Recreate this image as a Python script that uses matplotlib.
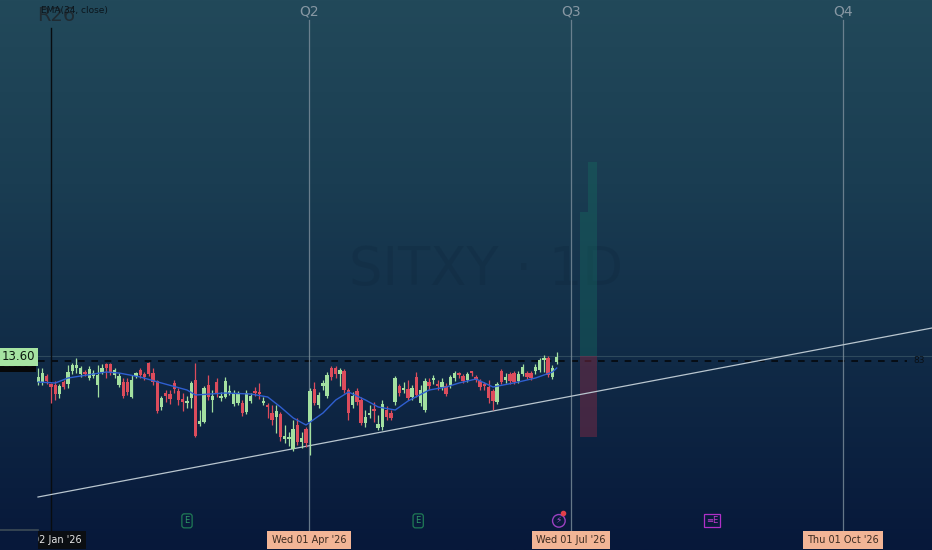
import numpy as np
import matplotlib.pyplot as plt
import matplotlib.transforms as mtransforms
from matplotlib.patches import Rectangle
from matplotlib.colors import LinearSegmentedColormap

# daily bars, index 0 = Fri 02 Jan '26
bar_idx = list(range(-3, 120))
opens = [13.10, 13.10, 13.22, 13.06, 13.04, 12.86, 13.10, 13.06, 13.32, 13.38,
         13.26, 13.30, 13.18, 13.22, 13.04, 13.30, 13.46, 13.46, 13.24, 13.04,
         13.10, 13.10, 12.80, 13.22, 13.34, 13.26, 13.48, 13.28, 13.12, 12.60,
         12.88, 12.86, 13.08, 12.92, 12.76, 12.68, 12.78, 13.14, 12.26, 12.30,
         13.04, 12.74, 13.10, 12.78, 12.80, 12.88, 12.66, 12.68, 12.68, 12.50,
         12.72, 12.92, 12.88, 12.68, 12.64, 12.48, 12.40, 12.46, 11.96, 11.96,
         11.76, 12.24, 11.90, 12.16, 12.30, 12.96, 12.64, 13.02, 12.82, 13.38,
         13.38, 13.26, 13.32, 12.94, 12.64, 12.92, 12.74, 12.28, 12.44, 12.54,
         12.18, 12.20, 12.54, 12.48, 12.70, 13.02, 12.94, 12.96, 12.80, 13.20,
         12.68, 12.54, 13.10, 13.14, 13.06, 13.00, 13.02, 13.04, 13.18, 13.28,
         13.22, 13.14, 13.30, 13.20, 13.12, 13.04, 13.00, 12.92, 12.70, 13.32,
         13.14, 13.26, 13.28, 13.12, 13.26, 13.28, 13.28, 13.32, 13.34, 13.54,
         13.58, 13.20, 13.50]
highs = [13.38, 13.38, 13.26, 13.08, 13.12, 13.06, 13.14, 13.44, 13.48, 13.58,
         13.42, 13.34, 13.42, 13.34, 13.44, 13.46, 13.48, 13.48, 13.38, 13.28,
         13.18, 13.18, 13.24, 13.30, 13.38, 13.30, 13.50, 13.38, 13.14, 12.82,
         12.94, 12.94, 13.14, 12.98, 12.88, 12.82, 13.12, 13.48, 12.54, 13.02,
         13.24, 12.94, 13.18, 12.90, 13.20, 13.04, 12.94, 12.92, 12.74, 12.94,
         12.88, 13.00, 13.08, 12.80, 12.68, 12.64, 12.64, 12.50, 12.24, 12.10,
         12.34, 12.38, 12.10, 12.20, 12.98, 13.10, 12.90, 13.14, 13.30, 13.42,
         13.42, 13.38, 13.36, 12.98, 12.90, 12.98, 12.80, 12.54, 12.64, 12.70,
         12.44, 12.74, 12.62, 12.54, 13.22, 13.06, 13.10, 13.14, 13.04, 13.30,
         13.04, 13.18, 13.18, 13.24, 13.14, 13.18, 13.08, 13.24, 13.32, 13.30,
         13.26, 13.30, 13.32, 13.24, 13.16, 13.10, 13.14, 12.96, 13.10, 13.36,
         13.28, 13.30, 13.32, 13.32, 13.46, 13.32, 13.32, 13.46, 13.58, 13.64,
         13.62, 13.44, 13.70]
lows = [13.04, 13.04, 13.06, 12.68, 12.74, 12.78, 12.96, 12.98, 13.26, 13.28,
        13.20, 13.22, 13.14, 13.18, 12.80, 13.26, 13.18, 13.24, 13.18, 13.00,
        12.78, 12.84, 12.78, 13.18, 13.18, 13.14, 13.22, 13.04, 12.48, 12.54,
        12.70, 12.66, 12.88, 12.64, 12.52, 12.58, 12.58, 12.00, 12.22, 12.28,
        12.74, 12.50, 12.80, 12.72, 12.78, 12.84, 12.62, 12.64, 12.42, 12.46,
        12.68, 12.82, 12.76, 12.64, 12.38, 12.24, 12.08, 11.92, 11.88, 11.82,
        11.72, 11.84, 11.78, 11.80, 11.64, 12.64, 12.58, 12.94, 12.78, 13.14,
        13.18, 13.02, 12.88, 12.34, 12.58, 12.64, 12.24, 12.20, 12.38, 12.30,
        12.14, 12.14, 12.34, 12.34, 12.64, 12.82, 12.88, 12.74, 12.74, 12.80,
        12.62, 12.50, 12.94, 13.06, 12.94, 12.94, 12.82, 12.98, 13.12, 13.18,
        13.08, 13.10, 13.22, 13.10, 12.94, 12.94, 12.68, 12.54, 12.66, 13.06,
        13.08, 13.06, 13.06, 13.08, 13.22, 13.16, 13.14, 13.26, 13.30, 13.30,
        13.20, 13.16, 13.46]
closes = [13.20, 13.28, 13.12, 13.00, 12.86, 13.02, 13.00, 13.30, 13.44, 13.44,
          13.38, 13.26, 13.36, 13.28, 13.24, 13.38, 13.38, 13.30, 13.34, 13.22,
          12.82, 12.90, 13.14, 13.28, 13.24, 13.20, 13.26, 13.10, 12.52, 12.78,
          12.82, 12.76, 12.96, 12.74, 12.70, 12.70, 13.08, 12.02, 12.32, 12.98,
          12.80, 12.82, 12.88, 12.82, 13.12, 12.90, 12.88, 12.88, 12.48, 12.88,
          12.82, 12.88, 12.86, 12.70, 12.60, 12.34, 12.52, 12.00, 12.02, 12.00,
          12.16, 11.90, 11.98, 11.88, 12.92, 12.68, 12.84, 13.08, 13.24, 13.20,
          13.26, 13.34, 12.94, 12.48, 12.82, 12.70, 12.28, 12.40, 12.48, 12.52,
          12.26, 12.66, 12.40, 12.38, 13.18, 12.88, 12.98, 12.78, 12.98, 12.84,
          12.94, 13.12, 13.02, 13.18, 13.02, 13.10, 12.86, 13.20, 13.28, 13.24,
          13.12, 13.26, 13.28, 13.14, 13.00, 13.02, 12.78, 12.72, 13.06, 13.10,
          13.20, 13.12, 13.10, 13.26, 13.40, 13.20, 13.18, 13.40, 13.54, 13.58,
          13.24, 13.38, 13.60]

# blue moving average at a few bars
ema_idx = [-3, 1, 4, 7, 13, 16, 21, 26, 32, 34, 41, 47, 51, 54, 57, 60,
           64, 67, 70, 74, 77, 81, 84, 89, 93, 96, 100, 104, 110, 114, 118, 119]
ema_val = [13.10, 13.08, 13.18, 13.22, 13.30, 13.28, 13.20, 13.08, 12.94, 12.84,
           12.88, 12.86, 12.80, 12.60, 12.38, 12.24, 12.48, 12.74, 12.90, 12.74,
           12.60, 12.54, 12.72, 12.94, 13.00, 13.08, 13.16, 13.00, 13.10, 13.18,
           13.30, 13.38]

trend_x = [-3.06, 207.3]
trend_y = [10.80, 14.18]

year_idx = 0
year_date = "02 Jan '26"
quarter_idx = [60.7, 122.35, 186.35]
quarter_names = ['Q2', 'Q3', 'Q4']
quarter_dates = ["Wed 01 Apr '26", "Wed 01 Jul '26", "Thu 01 Oct '26"]

last_price = 13.60
prev_close = 13.52

# long position tool
pos_left, pos_mid, pos_right = 124.5, 126.4, 128.5
pos_entry = 13.62
pos_stop = 12.00
pos_target_lo = 16.50
pos_target_hi = 17.50

event_idx = [32, 86.4, 119.5, 155.5]
event_kind = ['earn', 'earn', 'div', 'earn_next']

UP = '#a3e0a0'
DOWN = '#dc4c5c'

fig = plt.figure(figsize=(9.32, 5.5), dpi=100)
ax = fig.add_axes([0, 0, 1, 1])
ax.set_xlim(-12, 207.3)
ax.set_ylim(9.74, 20.74)
ax.axis('off')

# background gradient
bg = LinearSegmentedColormap.from_list('bg', ['#07183a', '#102a46', '#1a3d52', '#22495a'])
grad = np.linspace(0, 1, 256).reshape(-1, 1)
ax.imshow(grad, cmap=bg, origin='lower', aspect='auto', extent=[0, 1, 0, 1],
          transform=ax.transAxes, zorder=0)

# watermark
ax.text(0.521, 0.51, 'SITXY · 1D', transform=ax.transAxes, fontsize=38,
        color='#0c2238', alpha=0.22, ha='center', va='center', zorder=1)

# faint price line and previous close dashes
ax.plot([trend_x[0], 207.3], [pos_entry, pos_entry], color='#3c5868', lw=0.8, alpha=0.7, zorder=2)
ax.plot([trend_x[0], 201.4], [prev_close, prev_close], color='#05080c', lw=1.2,
        dashes=(4, 4), zorder=2)
ax.text(204.2, prev_close, '83', color='#0a1016', fontsize=6.5, ha='center', va='center', zorder=3)

# vertical separators
top = mtransforms.blended_transform_factory(ax.transData, ax.transAxes)
ax.axvline(year_idx, ymin=0.035, ymax=0.949, color='#080c10', lw=1, zorder=2)
for qi, qn in zip(quarter_idx, quarter_names):
    ax.axvline(qi, ymin=0.035, ymax=0.964, color='#7d8f9c', lw=0.9, alpha=0.8, zorder=2)
    ax.text(qi, 0.979, qn, transform=top, color='#8797a3', fontsize=10,
            ha='center', va='center', zorder=3)

# position box
ax.add_patch(Rectangle((pos_left, pos_entry), pos_right - pos_left, pos_target_lo - pos_entry,
                       facecolor='#16645e', alpha=0.45, lw=0, zorder=2))
ax.add_patch(Rectangle((pos_mid, pos_target_lo), pos_right - pos_mid, pos_target_hi - pos_target_lo,
                       facecolor='#16645e', alpha=0.45, lw=0, zorder=2))
ax.add_patch(Rectangle((pos_left, pos_stop), pos_right - pos_left, pos_entry - pos_stop,
                       facecolor='#7a2a44', alpha=0.5, lw=0, zorder=2))

# trend line
ax.plot(trend_x, trend_y, color='#b9c6cf', lw=0.9, zorder=3)

# candles
x = np.array(bar_idx)
o = np.array(opens)
h = np.array(highs)
l = np.array(lows)
c = np.array(closes)
cols = np.where(c >= o, UP, DOWN)
ax.vlines(x, l, h, colors=cols, lw=0.9, zorder=4)
body_lo = np.minimum(o, c)
body_h = np.maximum(np.abs(c - o), 0.04)
ax.bar(x, body_h, bottom=body_lo, width=0.82, color=cols, lw=0, zorder=5)

# moving average
ax.plot(ema_idx, ema_val, color='#2f5fd0', lw=1.0, zorder=6)

# top-left labels (they overlap in the original too)
ax.text(0.040, 0.972, 'R26', transform=ax.transAxes, fontsize=14, color='#1f2b32',
        ha='left', va='center', zorder=7)
ax.text(0.044, 0.981, 'EMA(34, close)', transform=ax.transAxes, fontsize=6.5,
        color='#0b151c', ha='left', va='center', zorder=8)

# price labels on the left
ax.text(-7.7, 13.45, '13.53', fontsize=8, color='#111111', ha='center', va='center', zorder=8,
        bbox=dict(boxstyle='square,pad=0.2', fc='#060708', ec='none'))
ax.text(-7.7, last_price, '13.60', fontsize=8.5, color='#0d1a10', ha='center', va='center', zorder=9,
        bbox=dict(boxstyle='square,pad=0.25', fc='#a6e3a2', ec='none'))

# bottom axis strip
ax.plot([0, 0.041], [0.036, 0.036], transform=ax.transAxes, color='#3d4b56', lw=1.2, zorder=10)
for qi, qd in zip(quarter_idx, quarter_dates):
    ax.text(qi, 0.018, qd, transform=top, fontsize=7, color='#3b2a20', ha='center', va='center',
            zorder=8, bbox=dict(boxstyle='square,pad=0.45', fc='#f2b596', ec='none'))
ax.text(year_idx + 1.4, 0.018, year_date, transform=top, fontsize=7, color='#e6e6e6',
        ha='center', va='center', zorder=8,
        bbox=dict(boxstyle='square,pad=0.45', fc='#0b0e12', ec='none'))
# left price-scale strip hides the start of the first date label
ax.add_patch(Rectangle((0, 0), 0.0405, 0.036, transform=ax.transAxes, facecolor='#07183a',
                       lw=0, zorder=9))

# event markers
for ei, ek in zip(event_idx, event_kind):
    if ek == 'earn':
        ax.text(ei, 0.053, 'E', transform=top, fontsize=6, color='#2f9a68', ha='center', va='center',
                zorder=8, bbox=dict(boxstyle='round,pad=0.3', fc='none', ec='#1f7a55', lw=0.9))
    elif ek == 'earn_next':
        ax.text(ei, 0.053, '≡E', transform=top, fontsize=6, color='#c03ad0', ha='center', va='center',
                zorder=8, bbox=dict(boxstyle='square,pad=0.25', fc='none', ec='#b030c8', lw=0.9))
    else:
        ax.text(ei, 0.053, '⚡', transform=top, fontsize=6.5, color='#a450c8', ha='center', va='center',
                zorder=8, bbox=dict(boxstyle='circle,pad=0.2', fc='none', ec='#9a40c0', lw=1.0))
        ax.plot(ei + 0.9, 0.068, 'o', transform=top, ms=3, color='#e0404a', zorder=9)

fig.savefig('out.png', dpi=100)
